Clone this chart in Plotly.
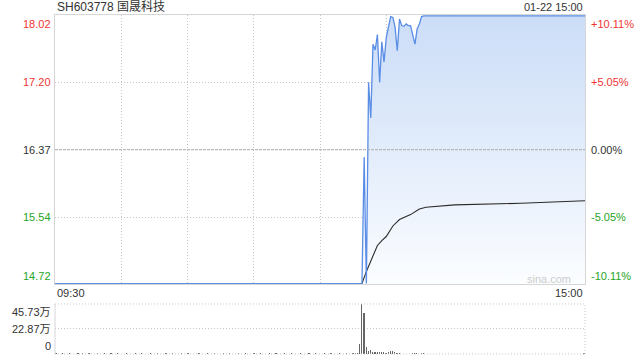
import plotly.graph_objects as go

# ---------------- data ----------------
title_text = "SH603778 国晟科技"
date_text = "01-22 15:00"
prev_close = 16.37

price_ticks = [18.02, 17.20, 16.37, 15.54, 14.72]
price_tick_text = ["18.02", "17.20", "16.37", "15.54", "14.72"]
pct_tick_text = ["+10.11%", "+5.05%", "0.00%", "-5.05%", "-10.11%"]
time_labels = ["09:30", "15:00"]
vol_ticks = [45.73, 22.87, 0]
vol_tick_text = ["45.73万", "22.87万", "0"]

# minute index (0 = 09:30, 120 = 11:30/13:00, 240 = 15:00)
price_idx = [0, 139, 140, 141, 142, 143, 144, 145, 146, 147, 148, 149, 150, 151,
             152, 153, 154, 155, 156, 157, 158, 159, 160, 161, 162, 163, 164, 165,
             166, 167, 240]
price_val = [14.72, 14.72, 16.28, 14.72, 17.20, 16.76, 17.67, 17.60, 17.79, 17.20,
             17.70, 17.45, 17.75, 17.90, 18.01, 18.00, 17.88, 17.59, 17.98, 17.90,
             17.89, 17.92, 17.90, 17.90, 17.80, 17.67, 17.86, 17.92, 18.01, 18.02,
             18.02]

avg_idx = [0, 139, 141, 144, 146, 148, 150, 153, 156, 161, 165, 168, 181, 211, 240]
avg_val = [14.72, 14.72, 14.87, 15.05, 15.19, 15.25, 15.30, 15.43, 15.51, 15.57,
           15.64, 15.66, 15.69, 15.71, 15.74]

# volume in 万 (10k shares), one bar per minute
vol_pre = [
    0.5, 0.4, 0.4, 0.5, 0.0, 0.4, 0.5, 0.4, 0.4, 0.0,
    0.5, 0.4, 0.5, 0.4, 0.4, 0.5, 0.0, 0.4, 0.4, 0.5,
    0.4, 0.0, 0.5, 0.4, 0.4, 0.5, 0.4, 0.4, 0.5, 0.4,
    0.0, 0.4, 0.5, 0.4, 0.4, 0.0, 0.5, 0.4, 0.4, 0.5,
    0.4, 0.4, 0.0, 0.5, 0.4, 0.4, 0.5, 0.4, 0.0, 0.4,
    0.5, 0.4, 0.4, 0.5, 0.4, 0.0, 0.4, 0.5, 0.4, 0.4,
    0.5, 0.4, 0.0, 0.4, 0.4, 0.5, 0.4, 0.4, 0.0, 0.5,
    0.4, 0.4, 0.5, 0.4, 0.4, 0.0, 0.5, 0.4, 0.4, 0.5,
    0.4, 0.0, 0.4, 0.5, 0.4, 0.4, 0.5, 0.4, 0.4, 0.0,
    0.5, 0.4, 0.4, 0.5, 0.4, 0.0, 0.4, 0.5, 0.4, 0.4,
    0.5, 0.0, 0.4, 0.4, 0.5, 0.4, 0.4, 0.5, 0.0, 0.4,
    0.4, 0.5, 0.4, 0.4, 0.0, 0.5, 0.4, 0.4, 0.5, 0.4,
    0.0, 0.4, 0.5, 0.4, 0.4, 0.5, 0.4, 0.0, 0.4, 0.5,
    0.4, 0.4, 0.5, 0.4, 0.4, 0.5, 0.6, 0.8,
]
vol_post = [
    9.6, 45.73, 37.8, 6.0, 3.0, 3.9, 2.1, 2.1, 1.8, 1.6,
    1.6, 1.6, 0.9, 1.8, 2.4, 3.0, 1.8, 1.1, 0.6, 0.4,
    0.4, 0.3, 0.4, 0.4, 0.5, 0.6, 0.5, 0.4, 0.6, 0.5,
    0.4, 0.3, 0.4, 0.4, 0.3, 0.4, 0.3, 0.4, 0.4, 0.3,
    0.4, 0.3, 0.3, 0.4, 0.3, 0.4, 0.3, 0.3, 0.4, 0.3,
    0.3, 0.4, 0.3, 0.3, 0.4, 0.3, 0.3, 0.4, 0.3, 0.3,
    0.4, 0.3, 0.3, 0.4, 0.3, 0.3, 0.4, 0.3, 0.3, 0.4,
    0.3, 0.3, 0.4, 0.3, 0.3, 0.4, 0.3, 0.3, 0.4, 0.3,
    0.3, 0.4, 0.3, 0.3, 0.4, 0.3, 0.3, 0.4, 0.3, 0.3,
    0.4, 0.3, 0.3, 0.4, 0.3, 0.3, 0.4, 0.3, 0.3, 0.4,
    0.3, 0.4, 0.5,
]
volume = vol_pre + vol_post
vol_idx = list(range(len(volume)))

# ---------------- styling ----------------
FONT = "Arial, 'Liberation Sans', 'Noto Sans CJK SC', sans-serif"
RED = "#f03434"
GREEN = "#25a525"
DARK = "#333333"
GRID = "#c8c8c8"
FRAME = "#d6d6d6"
DOT = "1px,2px"
label_colors = [RED, RED, DARK, GREEN, GREEN]
Y_LO, Y_HI = 14.715, 18.03

fig = go.Figure()

# baseline for the gradient fill (bottom of the price panel)
fig.add_trace(go.Scatter(
    x=[price_idx[0], price_idx[-1]], y=[price_ticks[-1], price_ticks[-1]],
    mode="lines", line=dict(color="rgba(0,0,0,0)", width=0),
    hoverinfo="skip", showlegend=False,
))
fig.add_trace(go.Scatter(
    x=price_idx, y=price_val, mode="lines",
    line=dict(color="rgba(0,0,0,0)", width=0),
    fill="tonexty",
    fillgradient=dict(type="vertical", start=price_ticks[-1], stop=price_ticks[0],
                      colorscale=[[0, "rgb(251,253,255)"], [0.5, "rgb(226,236,251)"],
                                  [1, "rgb(203,221,247)"]]),
    hoverinfo="skip", showlegend=False,
))
fig.add_trace(go.Scatter(
    x=avg_idx, y=avg_val, mode="lines",
    line=dict(color="#2b2b2b", width=1.1),
    hoverinfo="skip", showlegend=False,
))
fig.add_trace(go.Scatter(
    x=price_idx, y=price_val, mode="lines",
    line=dict(color="#5a8de6", width=1.3),
    hoverinfo="skip", showlegend=False,
))
fig.add_trace(go.Bar(
    x=vol_idx, y=volume, xaxis="x2", yaxis="y2",
    marker=dict(color="#666666", line=dict(width=0)),
    width=0.55, hoverinfo="skip", showlegend=False,
))

MAIN_DOM = [0.2065, 1.0]
VOL_DOM = [0.0, 0.1475]

fig.update_layout(
    width=640, height=360,
    margin=dict(l=55, r=55, t=15, b=6),
    paper_bgcolor="white", plot_bgcolor="white",
    font=dict(family=FONT, size=11, color=DARK),
    hovermode=False,
    bargap=0,
    xaxis=dict(domain=[0, 1], range=[0, 240], anchor="y",
               tickvals=[0, 30, 60, 90, 120, 150, 180, 210, 240],
               showticklabels=False, ticks="",
               showgrid=True, gridcolor=GRID, griddash=DOT, gridwidth=1,
               showline=True, mirror=True, linecolor=FRAME, linewidth=1,
               zeroline=False, fixedrange=True),
    yaxis=dict(domain=MAIN_DOM, range=[Y_LO, Y_HI], anchor="x",
               tickvals=[price_ticks[1], price_ticks[3]],
               showticklabels=False, ticks="",
               showgrid=True, gridcolor=GRID, griddash=DOT, gridwidth=1,
               showline=True, mirror=True, linecolor=FRAME, linewidth=1,
               zeroline=False, fixedrange=True),
    xaxis2=dict(domain=[0, 1], range=[-0.5, 240.5], anchor="y2",
                showticklabels=False, ticks="", showgrid=False,
                showline=False, zeroline=False, fixedrange=True),
    yaxis2=dict(domain=VOL_DOM, range=[0, 45.73], anchor="x2",
                tickvals=[vol_ticks[1]], showticklabels=False, ticks="",
                showgrid=True, gridcolor=GRID, griddash=DOT, gridwidth=1,
                showline=False, zeroline=False, fixedrange=True),
)

shapes = []
# previous-close dashed line
shapes.append(dict(type="line", xref="x domain", yref="y", x0=0, x1=1,
                   y0=prev_close, y1=prev_close,
                   line=dict(color="#aaaaaa", width=1, dash="3px,1px")))
# volume panel frame
shapes.append(dict(type="line", xref="paper", yref="y2 domain", x0=0, x1=0, y0=0, y1=1,
                   line=dict(color=FRAME, width=1)))
for (x0, x1, y0, y1) in [(0, 1, 1, 1), (0, 1, 0, 0), (1, 1, 0, 1)]:
    shapes.append(dict(type="line", xref="paper", yref="y2 domain",
                       x0=x0, x1=x1, y0=y0, y1=y1,
                       line=dict(color=GRID, width=1, dash=DOT)))
fig.update_layout(shapes=shapes)

ann = []
ann.append(dict(text=title_text, xref="paper", yref="paper", x=0.0, y=1.0236,
                xanchor="left", yanchor="middle", showarrow=False,
                font=dict(size=12, color=DARK)))
ann.append(dict(text=date_text, xref="paper", yref="paper", x=1.0, y=1.0236,
                xanchor="right", yanchor="middle", showarrow=False,
                font=dict(size=11, color=DARK)))
for i, (v, t, p) in enumerate(zip(price_ticks, price_tick_text, pct_tick_text)):
    ya = "top" if i == 0 else ("bottom" if i == len(price_ticks) - 1 else "middle")
    ann.append(dict(text=t, xref="paper", yref="y", x=-0.004, y=v,
                    xanchor="right", yanchor=ya, showarrow=False,
                    font=dict(size=11, color=label_colors[i])))
    ann.append(dict(text=p, xref="paper", yref="y", x=1.008, y=v,
                    xanchor="left", yanchor=ya, showarrow=False,
                    font=dict(size=11, color=label_colors[i])))
ann.append(dict(text=time_labels[0], xref="x", yref="paper", x=0, y=0.1814,
                xanchor="left", yanchor="middle", showarrow=False,
                font=dict(size=11, color=DARK)))
ann.append(dict(text=time_labels[1], xref="x", yref="paper", x=240, y=0.1814,
                xanchor="right", yanchor="middle", showarrow=False,
                font=dict(size=11, color=DARK)))
for v, t, ya in zip(vol_ticks, vol_tick_text, ["top", "middle", "bottom"]):
    ann.append(dict(text=t, xref="paper", yref="y2", x=-0.004, y=v,
                    xanchor="right", yanchor=ya, showarrow=False,
                    font=dict(size=11, color=DARK)))
ann.append(dict(text="sina.com", xref="paper", yref="paper", x=0.977, y=0.2212,
                xanchor="right", yanchor="middle", showarrow=False,
                font=dict(size=11, color="#cccccc")))
fig.update_layout(annotations=ann)

fig.write_html("out.html", config={"displayModeBar": False, "staticPlot": True})
